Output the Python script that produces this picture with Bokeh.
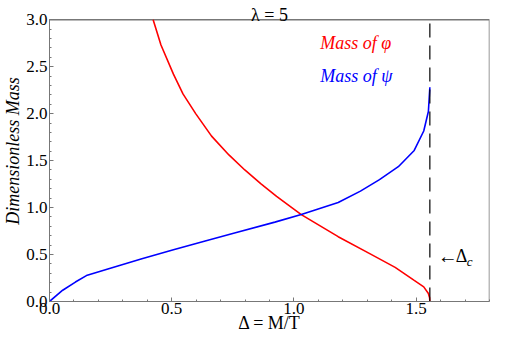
from bokeh.plotting import figure
from bokeh.models import Range1d, FixedTicker, PrintfTickFormatter, Label
from bokeh.embed import file_html
from bokeh.resources import INLINE

# ---- data ----
delta_phi = [0.424, 0.456, 0.507, 0.546, 0.598, 0.663, 0.734, 0.799, 0.864, 0.929,
             1.030, 1.181, 1.310, 1.414, 1.492, 1.531, 1.550, 1.555, 1.556]
mass_phi = [3.00, 2.73, 2.42, 2.21, 2.00, 1.76, 1.56, 1.40, 1.255, 1.12,
            0.925, 0.690, 0.510, 0.363, 0.224, 0.156, 0.086, 0.040, 0.000]

delta_psi = [0.000, 0.054, 0.106, 0.151, 0.249, 0.378, 0.507, 0.637, 0.757, 0.922,
             1.030, 1.181, 1.272, 1.350, 1.427, 1.492, 1.531, 1.550, 1.556]
mass_psi = [0.000, 0.120, 0.207, 0.276, 0.355, 0.455, 0.550, 0.645, 0.730, 0.845,
            0.925, 1.054, 1.175, 1.297, 1.435, 1.608, 1.815, 2.023, 2.280]

delta_c = 1.556
x_ticks = [0.0, 0.5, 1.0, 1.5]
y_ticks = [0.0, 0.5, 1.0, 1.5, 2.0, 2.5, 3.0]
x_minor = [i / 10 for i in range(0, 19)]
y_minor = [i / 10 for i in range(0, 31)]
x_max = 1.8
y_max = 3.0
y_view_top = 3.204   # head room above the frame for the title

FONT = "Liberation Serif"
GRAY = "#777777"

p = figure(width=490, height=335, output_backend="svg", toolbar_location=None,
           x_range=Range1d(0, x_max), y_range=Range1d(0, y_view_top),
           min_border_left=10, min_border_right=1, min_border_top=0,
           min_border_bottom=10)
p.grid.visible = False
p.outline_line_color = None
p.background_fill_color = "white"
p.border_fill_color = "white"

p.xaxis.ticker = FixedTicker(ticks=x_ticks, minor_ticks=x_minor)
p.yaxis.ticker = FixedTicker(ticks=y_ticks, minor_ticks=y_minor)
p.yaxis.bounds = (0, y_max)
for ax in (p.xaxis[0], p.yaxis[0]):
    ax.formatter = PrintfTickFormatter(format="%.1f")
    ax.axis_line_color = GRAY
    ax.major_tick_line_color = GRAY
    ax.minor_tick_line_color = GRAY
    ax.major_tick_in = 4
    ax.major_tick_out = 0
    ax.minor_tick_in = 2
    ax.minor_tick_out = 0
    ax.major_label_text_font = FONT
    ax.major_label_text_font_size = "17px"
    ax.major_label_text_color = "black"
    ax.axis_label_text_font = FONT
    ax.axis_label_text_font_size = "18px"
    ax.axis_label_text_color = "black"

p.xaxis.major_label_standoff = 1
p.xaxis.axis_label_standoff = -4
p.yaxis.major_label_standoff = 2
p.yaxis.axis_label_standoff = 0

p.xaxis.axis_label = "Δ = M/T"
p.xaxis.axis_label_text_font_style = "normal"
p.yaxis.axis_label = "Dimensionless Mass"
p.yaxis.axis_label_text_font_style = "italic"

# top and right frame lines
p.line([0, x_max, x_max], [y_max, y_max, 0], line_color=GRAY, line_width=1.5)

p.line(delta_phi, mass_phi, line_color="#ff0000", line_width=1.6)
p.line(delta_psi, mass_psi, line_color="#0000ff", line_width=1.6)
p.line([delta_c, delta_c], [0, y_max], line_color="black", line_width=1.2,
       line_dash="14 8")

def lab(**kw):
    kw.setdefault("text_font", FONT)
    kw.setdefault("text_color", "black")
    p.add_layout(Label(**kw))

# title
lab(x=x_max / 2, y=y_max, y_offset=5, text="λ = 5", text_font_size="18px",
    text_align="center", text_baseline="alphabetic")

# curve labels
lab(x=1.108, y=2.75, text="Mass of φ", text_font_size="18px", text_font_style="italic",
    text_color="#ff0000", text_align="left", text_baseline="middle")
lab(x=1.108, y=2.40, text="Mass of ψ", text_font_size="18px", text_font_style="italic",
    text_color="#0000ff", text_align="left", text_baseline="middle")

# critical point label
lab(x=delta_c, y=0.48, x_offset=8, text="←", text_font_size="20px",
    text_align="left", text_baseline="middle")
lab(x=delta_c, y=0.48, x_offset=26, text="Δ", text_font_size="18px",
    text_align="left", text_baseline="middle")
lab(x=delta_c, y=0.48, x_offset=37, y_offset=-5, text="c", text_font_size="13px",
    text_font_style="italic", text_align="left", text_baseline="middle")

open("out.html", "w").write(file_html(p, INLINE))
